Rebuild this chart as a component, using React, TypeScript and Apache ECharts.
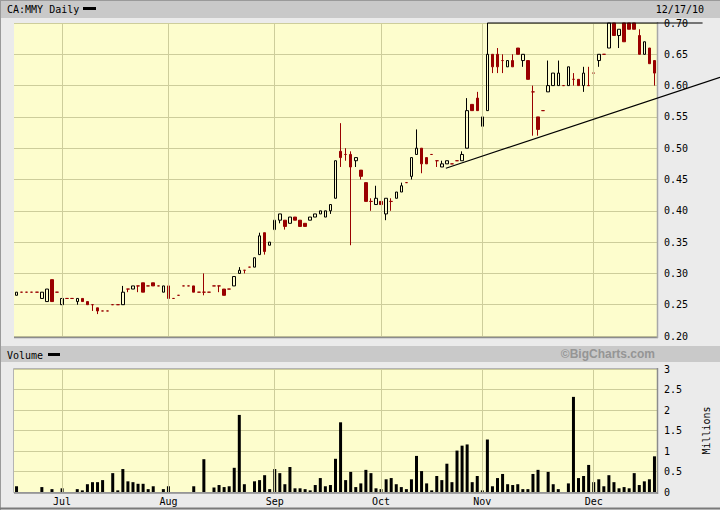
import { useEffect, useRef } from 'react';
import * as echarts from 'echarts';

// ---- trading days (2010) ----
const JUN_DAYS = [18, 21, 22, 23, 24, 25, 28, 29, 30];
const JUL_DAYS = [2, 5, 6, 7, 8, 9, 12, 13, 14, 15, 16, 19, 20, 21, 22, 23, 26, 27, 28, 29, 30];
const AUG_DAYS = [3, 4, 5, 6, 9, 10, 11, 12, 13, 16, 17, 18, 19, 20, 23, 24, 25, 26, 27, 30, 31];
const SEP_DAYS = [1, 2, 3, 7, 8, 9, 10, 13, 14, 15, 16, 17, 20, 21, 22, 23, 24, 27, 28, 29, 30];
const OCT_DAYS = [1, 4, 5, 6, 7, 8, 12, 13, 14, 15, 18, 19, 20, 21, 22, 25, 26, 27, 28, 29];
const NOV_DAYS = [1, 2, 3, 4, 5, 8, 9, 10, 11, 12, 15, 16, 17, 18, 19, 22, 23, 24, 25, 26, 29, 30];
const DEC_DAYS = [1, 2, 3, 6, 7, 8, 9, 10, 13, 14, 15, 16, 17];
const MONTH_NAMES = ['Jan', 'Feb', 'Mar', 'Apr', 'May', 'Jun', 'Jul', 'Aug', 'Sep', 'Oct', 'Nov', 'Dec'];

// ---- prices (CA:MMY daily) ----
const OPEN = [
  0.265, 0.27, 0.27, 0.27, 0.27, 0.26, 0.255, 0.29, 0.27,
  0.25, 0.26, 0.26, 0.255, 0.26, 0.255, 0.25, 0.245, 0.24, 0.24, 0.25, 0.25, 0.25, 0.275, 0.275, 0.28, 0.285, 0.28, 0.285, 0.28, 0.27,
  0.28, 0.26, 0.265, 0.28, 0.28, 0.28, 0.27, 0.27, 0.27, 0.28, 0.28, 0.275, 0.275, 0.28, 0.30, 0.305, 0.31, 0.31, 0.33, 0.365, 0.345,
  0.37, 0.385, 0.385, 0.38, 0.39, 0.385, 0.38, 0.385, 0.39, 0.395, 0.39, 0.40, 0.42, 0.495, 0.49, 0.49, 0.48, 0.465, 0.445, 0.415, 0.41,
  0.415, 0.395, 0.415, 0.42, 0.43, 0.445, 0.455, 0.49, 0.50, 0.485, 0.49, 0.48, 0.47, 0.475, 0.475, 0.48, 0.48, 0.50, 0.57, 0.58,
  0.535, 0.56, 0.65, 0.65, 0.64, 0.63, 0.64, 0.66, 0.64, 0.64, 0.59, 0.55, 0.56, 0.59, 0.60, 0.60, 0.60, 0.60, 0.61, 0.61, 0.60, 0.60,
  0.62, 0.64, 0.65, 0.66, 0.70, 0.68, 0.70, 0.70, 0.70, 0.68, 0.65, 0.66, 0.64,
];
const HIGH = [
  0.27, 0.27, 0.27, 0.27, 0.27, 0.27, 0.275, 0.29, 0.27,
  0.26, 0.26, 0.26, 0.26, 0.26, 0.255, 0.25, 0.245, 0.24, 0.24, 0.25, 0.25, 0.28, 0.275, 0.28, 0.28, 0.285, 0.28, 0.285, 0.28, 0.28,
  0.28, 0.26, 0.265, 0.28, 0.28, 0.28, 0.27, 0.30, 0.27, 0.28, 0.28, 0.275, 0.275, 0.295, 0.31, 0.305, 0.31, 0.325, 0.365, 0.365, 0.35,
  0.39, 0.395, 0.385, 0.39, 0.39, 0.385, 0.38, 0.39, 0.395, 0.40, 0.40, 0.41, 0.48, 0.54, 0.50, 0.495, 0.485, 0.465, 0.445, 0.42, 0.44,
  0.415, 0.42, 0.42, 0.43, 0.445, 0.445, 0.485, 0.53, 0.50, 0.485, 0.49, 0.48, 0.48, 0.48, 0.475, 0.48, 0.495, 0.58, 0.57, 0.59,
  0.55, 0.70, 0.65, 0.66, 0.65, 0.64, 0.65, 0.66, 0.65, 0.64, 0.60, 0.55, 0.56, 0.64, 0.62, 0.64, 0.60, 0.63, 0.62, 0.61, 0.63, 0.63,
  0.64, 0.65, 0.65, 0.70, 0.70, 0.69, 0.70, 0.70, 0.70, 0.69, 0.67, 0.66, 0.64,
];
const LOW = [
  0.265, 0.27, 0.27, 0.27, 0.27, 0.26, 0.255, 0.255, 0.27,
  0.25, 0.26, 0.26, 0.25, 0.255, 0.25, 0.24, 0.235, 0.24, 0.24, 0.25, 0.25, 0.25, 0.27, 0.275, 0.27, 0.27, 0.28, 0.28, 0.28, 0.27,
  0.26, 0.26, 0.265, 0.28, 0.28, 0.27, 0.27, 0.265, 0.27, 0.28, 0.27, 0.265, 0.275, 0.28, 0.30, 0.30, 0.31, 0.31, 0.33, 0.33, 0.345,
  0.37, 0.38, 0.37, 0.38, 0.385, 0.375, 0.375, 0.385, 0.39, 0.395, 0.39, 0.395, 0.42, 0.47, 0.48, 0.345, 0.47, 0.45, 0.415, 0.40, 0.41,
  0.41, 0.385, 0.40, 0.42, 0.43, 0.445, 0.45, 0.49, 0.46, 0.475, 0.49, 0.47, 0.47, 0.475, 0.475, 0.48, 0.48, 0.50, 0.56, 0.56,
  0.53, 0.56, 0.62, 0.62, 0.62, 0.63, 0.63, 0.65, 0.63, 0.61, 0.52, 0.52, 0.56, 0.59, 0.60, 0.60, 0.60, 0.60, 0.60, 0.60, 0.59, 0.60,
  0.62, 0.63, 0.65, 0.66, 0.68, 0.66, 0.67, 0.69, 0.69, 0.65, 0.65, 0.635, 0.60,
];
const CLOSE = [
  0.27, 0.27, 0.27, 0.27, 0.27, 0.27, 0.275, 0.255, 0.27,
  0.26, 0.26, 0.26, 0.26, 0.255, 0.25, 0.25, 0.24, 0.24, 0.24, 0.25, 0.25, 0.27, 0.275, 0.28, 0.28, 0.27, 0.28, 0.28, 0.28, 0.28,
  0.26, 0.26, 0.265, 0.28, 0.28, 0.27, 0.27, 0.27, 0.27, 0.28, 0.28, 0.265, 0.275, 0.295, 0.305, 0.305, 0.31, 0.325, 0.36, 0.335, 0.35,
  0.385, 0.395, 0.375, 0.39, 0.385, 0.375, 0.375, 0.39, 0.395, 0.40, 0.40, 0.41, 0.48, 0.485, 0.49, 0.47, 0.485, 0.455, 0.415, 0.415, 0.42,
  0.41, 0.42, 0.415, 0.43, 0.44, 0.445, 0.485, 0.50, 0.475, 0.475, 0.49, 0.48, 0.475, 0.48, 0.475, 0.48, 0.49, 0.56, 0.56, 0.56,
  0.55, 0.65, 0.63, 0.63, 0.64, 0.64, 0.63, 0.65, 0.65, 0.61, 0.59, 0.53, 0.56, 0.60, 0.62, 0.62, 0.60, 0.63, 0.61, 0.60, 0.62, 0.60,
  0.62, 0.65, 0.65, 0.70, 0.68, 0.69, 0.67, 0.69, 0.69, 0.65, 0.67, 0.635, 0.62,
];
// volume, millions of shares
const VOLUME = [
  0.14, 0, 0, 0, 0, 0.12, 0, 0.07, 0,
  0.09, 0, 0, 0.07, 0.04, 0.19, 0.24, 0.24, 0.29, 0, 0.46, 0.04, 0.56, 0.26, 0.24, 0.20, 0.20, 0.07, 0.14, 0, 0.07,
  0.14, 0, 0, 0, 0, 0.14, 0, 0.80, 0, 0.11, 0.17, 0.12, 0.14, 0.59, 1.88, 0.19, 0, 0.26, 0.29, 0.41, 0.07,
  0.56, 0.46, 0.19, 0.61, 0.09, 0.09, 0.07, 0.04, 0.17, 0.34, 0.14, 0.17, 0.81, 1.70, 0.29, 0.49, 0.12, 0.21, 0.54, 0.46, 0.09,
  0.07, 0.31, 0.34, 0.19, 0.12, 0.07, 0.31, 0.88, 0.51, 0.21, 0.04, 0.39, 0.29, 0.69, 0.24, 1.01, 1.13, 1.16, 0.24, 0.39,
  0.04, 1.28, 0.14, 0.34, 0.44, 0.19, 0.17, 0.19, 0.07, 0.07, 0.44, 0.54, 0, 0.49, 0.19, 0.07, 0, 0.21, 2.32, 0.34, 0.39, 0.66,
  0.24, 0.31, 0.14, 0.41, 0.24, 0.09, 0.12, 0.09, 0.46, 0.17, 0.26, 0.31, 0.87,
];
const PRICE_TICKS = { min: 0.2, max: 0.7, step: 0.05 };
const VOLUME_TICKS = { min: 0, max: 3, step: 0.5 };
// hand-drawn trend lines, in data space: [dayIndex, price]
const SUPPORT_LINE = [[84.8, 0.468], [126, 0.5786]];
const RESISTANCE_LINE = [[93, 0.7], [135.5, 0.7]];

const pad = (n: number) => (n < 10 ? '0' + n : '' + n);
const MONTH_DAYS: [number, number[]][] = [
  [6, JUN_DAYS], [7, JUL_DAYS], [8, AUG_DAYS], [9, SEP_DAYS], [10, OCT_DAYS], [11, NOV_DAYS], [12, DEC_DAYS],
];
const DATES: string[] = [];
const MONTH_START: number[] = [];
MONTH_DAYS.forEach(([m, days], k) => {
  if (k > 0) MONTH_START.push(DATES.length);
  days.forEach((d) => DATES.push(`2010-${pad(m)}-${pad(d)}`));
});

const RED = '#990000';
const GRID = '#cdcd9b';
const PLOT_BG = '#fdfdcd';
const MONO = '"DejaVu Sans Mono", monospace';

export default function App() {
  const ref = useRef<HTMLDivElement>(null);
  useEffect(() => {
    const chart = echarts.init(ref.current!, null, { renderer: 'svg' });
    const candles = DATES.map((_, i) => {
      const v = [OPEN[i], CLOSE[i], LOW[i], HIGH[i]];
      if (OPEN[i] === CLOSE[i]) {
        return { value: v, itemStyle: { color: RED, color0: RED, borderColor: RED, borderColor0: RED } };
      }
      return v;
    });
    const monthLines = MONTH_START.map((i) => ({ xAxis: DATES[i] }));
    const markLine = {
      silent: true,
      symbol: ['none', 'none'],
      label: { show: false },
      lineStyle: { color: GRID, type: 'solid', width: 1 },
      data: monthLines,
    };
    const startSet = new Set(MONTH_START);
    const axisText = { fontFamily: MONO, fontSize: 10, color: '#000' };

    chart.setOption({
      animation: false,
      backgroundColor: '#ebebeb',
      grid: [
        { left: 14, top: 23, width: 643, height: 313, show: true, backgroundColor: PLOT_BG, borderWidth: 0 },
        { left: 14, top: 369, width: 643, height: 123, show: true, backgroundColor: PLOT_BG, borderWidth: 0 },
      ],
      xAxis: [
        {
          type: 'category', gridIndex: 0, data: DATES, boundaryGap: true,
          axisLine: { show: false }, axisTick: { show: false }, axisLabel: { show: false }, splitLine: { show: false },
        },
        {
          type: 'category', gridIndex: 1, data: DATES, boundaryGap: true,
          axisLine: { show: false }, axisTick: { show: false }, splitLine: { show: false },
          axisLabel: {
            ...axisText, margin: 4,
            interval: (idx: number) => startSet.has(idx),
            formatter: (v: string) => MONTH_NAMES[parseInt(v.slice(5, 7), 10) - 1],
          },
        },
      ],
      yAxis: [
        {
          type: 'value', gridIndex: 0, position: 'right',
          min: PRICE_TICKS.min, max: PRICE_TICKS.max, interval: PRICE_TICKS.step,
          axisLine: { show: false }, axisTick: { show: false },
          splitLine: { show: true, lineStyle: { color: GRID, width: 1 } },
          axisLabel: { ...axisText, align: 'left', margin: 7, formatter: (v: number) => v.toFixed(2) },
        },
        {
          type: 'value', gridIndex: 1, position: 'right',
          min: VOLUME_TICKS.min, max: VOLUME_TICKS.max, interval: VOLUME_TICKS.step,
          axisLine: { show: false }, axisTick: { show: false },
          splitLine: { show: true, lineStyle: { color: GRID, width: 1 } },
          axisLabel: { ...axisText, align: 'left', margin: 7 },
          name: 'Millions', nameLocation: 'middle', nameRotate: 90, nameGap: 44,
          nameTextStyle: { ...axisText },
        },
      ],
      series: [
        {
          type: 'line', xAxisIndex: 0, yAxisIndex: 0, data: DATES.map(() => null), z: 1,
          silent: true, showSymbol: false, markLine,
        },
        {
          type: 'candlestick', xAxisIndex: 0, yAxisIndex: 0, data: candles, barWidth: 3, z: 3,
          itemStyle: { color: 'transparent', color0: RED, borderColor: '#000', borderColor0: RED, borderWidth: 1 },
        },
        {
          type: 'line', xAxisIndex: 1, yAxisIndex: 1, data: DATES.map(() => null), z: 1,
          silent: true, showSymbol: false, markLine,
        },
        {
          type: 'bar', xAxisIndex: 1, yAxisIndex: 1, data: VOLUME, barWidth: 3, z: 3,
          itemStyle: { color: '#000' },
        },
      ],
    });

    // trend lines through the library's scales
    const x0 = chart.convertToPixel({ xAxisIndex: 0 }, 0) as number;
    const x1 = chart.convertToPixel({ xAxisIndex: 0 }, DATES.length - 1) as number;
    const xPix = (idx: number) => x0 + ((x1 - x0) * idx) / (DATES.length - 1);
    const yPix = (p: number) => chart.convertToPixel({ yAxisIndex: 0 }, p) as number;
    const [s0, s1] = SUPPORT_LINE.map(([i, p]) => [xPix(i), yPix(p)]);
    const slope = (s1[1] - s0[1]) / (s1[0] - s0[0]);
    const sEndX = 720;
    const sEndY = s0[1] + slope * (sEndX - s0[0]);
    const [r0, r1] = RESISTANCE_LINE.map(([i, p]) => [xPix(i), yPix(p)]);

    const txt = (text: string, x: number, y: number, align = 'left', extra: any = {}) => ({
      type: 'text', x, y, z: 20,
      style: { text, font: `10px ${MONO}`, fill: '#000', align, verticalAlign: 'middle', ...extra },
    });

    chart.setOption({
      graphic: [
        { type: 'rect', z: 0, shape: { x: 0, y: 0, width: 720, height: 18 }, style: { fill: '#c9c9c9' } },
        { type: 'rect', z: 0, shape: { x: 0, y: 346, width: 720, height: 16 }, style: { fill: '#c9c9c9' } },
        { type: 'line', z: 0, shape: { x1: 0.5, y1: 0, x2: 0.5, y2: 510 }, style: { stroke: '#9a9a9a', lineWidth: 1 } },
        { type: 'line', z: 0, shape: { x1: 0, y1: 0.5, x2: 720, y2: 0.5 }, style: { stroke: '#9a9a9a', lineWidth: 1 } },
        { type: 'line', z: 0, shape: { x1: 0, y1: 508.5, x2: 720, y2: 508.5 }, style: { stroke: '#7a7a7a', lineWidth: 2 } },
        txt('CA:MMY Daily', 7, 9),
        { type: 'rect', z: 20, shape: { x: 83, y: 7, width: 13, height: 3 }, style: { fill: '#000' } },
        txt('12/17/10', 704, 9, 'right'),
        txt('Volume', 7, 355),
        { type: 'rect', z: 20, shape: { x: 48, y: 353, width: 12, height: 3 }, style: { fill: '#000' } },
        txt('©BigCharts.com', 655, 354, 'right', { font: 'bold 12px "Liberation Sans", Arial, sans-serif', fill: '#959595' }),
        // plot frames
        { type: 'line', z: 5, shape: { x1: 14, y1: 337.5, x2: 658, y2: 337.5 }, style: { stroke: '#8c8c8c', lineWidth: 1.5 } },
        { type: 'line', z: 5, shape: { x1: 657.5, y1: 22, x2: 657.5, y2: 338 }, style: { stroke: '#a8a8a8', lineWidth: 1.5 } },
        { type: 'rect', z: 5, shape: { x: 13.5, y: 368.5, width: 644, height: 124 }, style: { fill: 'none', stroke: '#b4b4b4', lineWidth: 1 } },
        { type: 'line', z: 5, shape: { x1: 14, y1: 493, x2: 658, y2: 493 }, style: { stroke: '#8c8c8c', lineWidth: 1.5 } },
        { type: 'line', z: 5, shape: { x1: 657.5, y1: 368, x2: 657.5, y2: 494 }, style: { stroke: '#8c8c8c', lineWidth: 1.5 } },
        // trend lines
        { type: 'line', z: 30, shape: { x1: r0[0], y1: r0[1], x2: r1[0], y2: r1[1] }, style: { stroke: '#000', lineWidth: 1.2 } },
        { type: 'line', z: 30, shape: { x1: s0[0], y1: s0[1], x2: sEndX, y2: sEndY }, style: { stroke: '#000', lineWidth: 1.2 } },
      ],
    });

    return () => chart.dispose();
  }, []);
  return <div ref={ref} style={{ position: 'absolute', left: 0, top: 0, width: 720, height: 510 }} />;
}
